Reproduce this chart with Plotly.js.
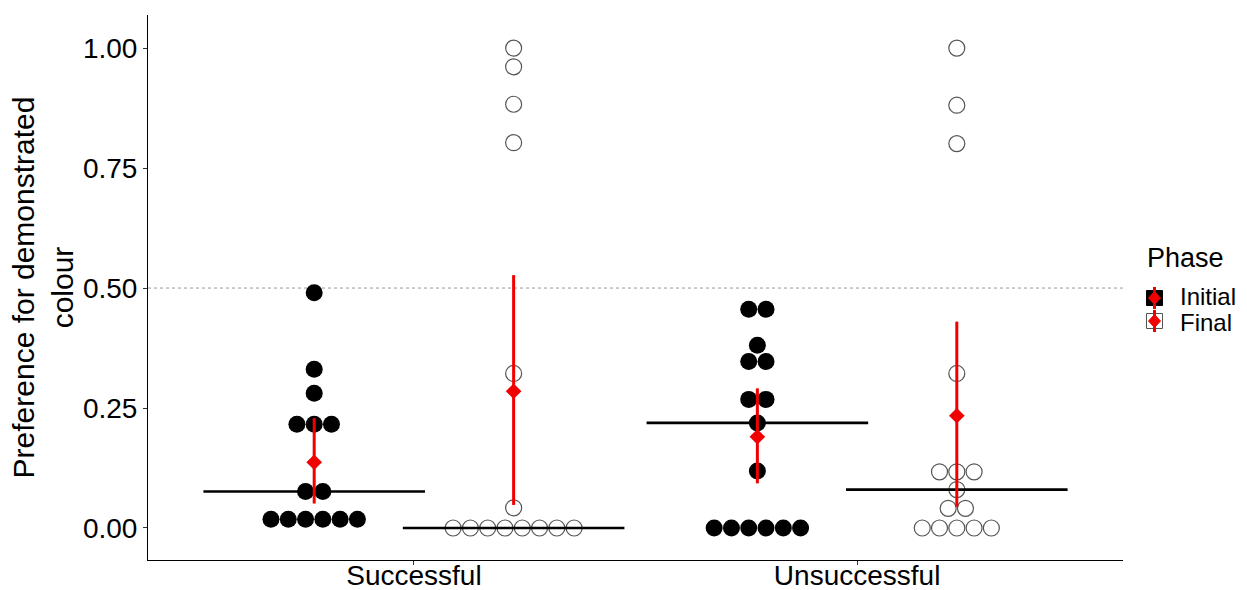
<!DOCTYPE html>
<html>
<head>
<meta charset="utf-8">
<script src="https://cdn.plot.ly/plotly-3.0.1.min.js"></script>
<style>html,body{margin:0;padding:0;background:#fff;}#chart{width:1247px;height:590px;}</style>
</head>
<body>
<div id="chart"></div>
<script>
// Categories and phases
const categories = ['Successful', 'Unsuccessful'];
const phases = ['Initial', 'Final'];

// Individual preference values (binned dot positions)
const successfulInitial = [0.49, 0.331, 0.281, 0.216, 0.216, 0.216, 0.076, 0.076, 0.018, 0.018, 0.018, 0.018, 0.018, 0.018];
const successfulFinal = [1.0, 0.961, 0.883, 0.803, 0.322, 0.042, 0, 0, 0, 0, 0, 0, 0, 0];
const unsuccessfulInitial = [0.456, 0.456, 0.381, 0.347, 0.347, 0.268, 0.268, 0.219, 0.119, 0, 0, 0, 0, 0, 0];
const unsuccessfulFinal = [1.0, 0.881, 0.801, 0.322, 0.117, 0.117, 0.117, 0.080, 0.041, 0.041, 0, 0, 0, 0, 0];

// Medians (black crossbars) per category
const medianInitial = [0.076, 0.219];
const medianFinal = [0, 0.080];

// Means and interval limits (red) per category
const meanInitial = [0.137, 0.190];
const meanFinal = [0.285, 0.234];
const lowInitial = [0.051, 0.093];
const highInitial = [0.229, 0.291];
const lowFinal = [0.048, 0.044];
const highFinal = [0.527, 0.430];

const dodge = 0.225;     // phase offset from category centre (x units)
const dotStep = 0.039;   // horizontal spacing of stacked dots (x units)
const barHalf = 0.25;    // half width of median crossbar
const red = '#f00000';

function stackDots(values, centre) {
  const groups = new Map();
  values.forEach(v => { groups.set(v, (groups.get(v) || 0) + 1); });
  const xs = [], ys = [];
  groups.forEach((n, v) => {
    for (let i = 0; i < n; i++) {
      xs.push(centre + (i - (n - 1) / 2) * dotStep);
      ys.push(v);
    }
  });
  return {xs, ys};
}

const groupsData = [
  {vals: successfulInitial, cat: 0, phase: 0},
  {vals: successfulFinal, cat: 0, phase: 1},
  {vals: unsuccessfulInitial, cat: 1, phase: 0},
  {vals: unsuccessfulFinal, cat: 1, phase: 1}
];

const traces = [];
groupsData.forEach(g => {
  const centre = (g.cat + 1) + (g.phase === 0 ? -dodge : dodge);
  const s = stackDots(g.vals, centre);
  traces.push({
    type: 'scatter', mode: 'markers', x: s.xs, y: s.ys, showlegend: false, hoverinfo: 'skip',
    marker: g.phase === 0
      ? {symbol: 'circle', size: 17, color: '#000000', line: {width: 0}}
      : {symbol: 'circle-open', size: 16, color: '#555555', line: {width: 1.2}}
  });
});

// Median crossbars
[medianInitial, medianFinal].forEach((med, p) => {
  med.forEach((m, c) => {
    const centre = (c + 1) + (p === 0 ? -dodge : dodge);
    traces.push({
      type: 'scatter', mode: 'lines', x: [centre - barHalf, centre + barHalf], y: [m, m],
      line: {color: '#000000', width: 2.6}, showlegend: false, hoverinfo: 'skip'
    });
  });
});

// Means with intervals
[[meanInitial, lowInitial, highInitial, -dodge], [meanFinal, lowFinal, highFinal, dodge]].forEach(arr => {
  const [mean, low, high, off] = arr;
  traces.push({
    type: 'scatter', mode: 'markers',
    x: categories.map((_, i) => i + 1 + off), y: mean,
    marker: {symbol: 'diamond', size: 12, color: red},
    error_y: {type: 'data', symmetric: false,
      array: mean.map((m, i) => high[i] - m),
      arrayminus: mean.map((m, i) => m - low[i]),
      color: red, thickness: 3, width: 0},
    showlegend: false, hoverinfo: 'skip'
  });
});

const font = 'Liberation Sans, Arial, sans-serif';
const L = 148, R = 1123, T = 15, B = 560;
const px = x => (x - L) / (R - L);
const py = y => (B - y) / (B - T);

const shapes = [
  {type: 'line', xref: 'paper', yref: 'y', x0: 0, x1: 1, y0: 0.5, y1: 0.5, layer: 'below',
   line: {color: '#9a9a9a', width: 1, dash: 'dot'}}
];
// legend keys
const keyX = px(1154.5);
[[298, true], [321, false]].forEach(([yy, filled]) => {
  const ya = py(yy);
  const base = {xref: 'paper', yref: 'paper', xsizemode: 'pixel', ysizemode: 'pixel', xanchor: keyX, yanchor: ya};
  shapes.push(Object.assign({}, base, {type: 'rect', x0: -8, x1: 8, y0: -7.5, y1: 7.5,
    fillcolor: filled ? '#000000' : 'rgba(0,0,0,0)', line: {color: filled ? '#000000' : '#555555', width: 1}}));
  shapes.push(Object.assign({}, base, {type: 'line', x0: 0, x1: 0, y0: -11, y1: 11,
    line: {color: red, width: 3}}));
  shapes.push(Object.assign({}, base, {type: 'path', path: 'M -6 0 L 0 6.5 L 6 0 L 0 -6.5 Z',
    fillcolor: red, line: {color: red, width: 1}}));
});

const annotations = [
  {xref: 'paper', yref: 'paper', x: px(1145), y: py(258), xanchor: 'left', yanchor: 'middle',
   text: 'Phase', showarrow: false, font: {family: font, size: 27, color: '#000'}},
  {xref: 'paper', yref: 'paper', x: px(1178), y: py(296), xanchor: 'left', yanchor: 'middle',
   text: phases[0], showarrow: false, font: {family: font, size: 24, color: '#000'}},
  {xref: 'paper', yref: 'paper', x: px(1178), y: py(322), xanchor: 'left', yanchor: 'middle',
   text: phases[1], showarrow: false, font: {family: font, size: 24, color: '#000'}}
];

const layout = {
  width: 1247, height: 590,
  margin: {l: L, r: 1247 - R, t: T, b: 590 - B},
  paper_bgcolor: '#ffffff', plot_bgcolor: '#ffffff',
  showlegend: false,
  font: {family: font, color: '#000'},
  xaxis: {
    range: [0.4, 2.6], tickvals: [1, 2], ticktext: categories,
    showgrid: false, zeroline: false, showline: true, linecolor: '#000', linewidth: 1,
    ticks: 'outside', ticklen: 4, tickcolor: '#333', tickwidth: 1,
    ticklabelstandoff: -14,
    tickfont: {family: font, size: 28, color: '#000'}
  },
  yaxis: {
    range: [-0.0667, 1.069], tickvals: [0, 0.25, 0.5, 0.75, 1], tickformat: '.2f',
    showgrid: false, zeroline: false, showline: true, linecolor: '#000', linewidth: 1,
    ticks: 'outside', ticklen: 4, tickcolor: '#333', tickwidth: 1,
    tickfont: {family: font, size: 28, color: '#000'},
    title: {text: 'Preference for demonstrated<br>colour', standoff: 0,
      font: {family: font, size: 30, color: '#000'}}
  },
  shapes: shapes,
  annotations: annotations
};

Plotly.newPlot('chart', traces, layout, {staticPlot: true, displayModeBar: false});
</script>
</body>
</html>
